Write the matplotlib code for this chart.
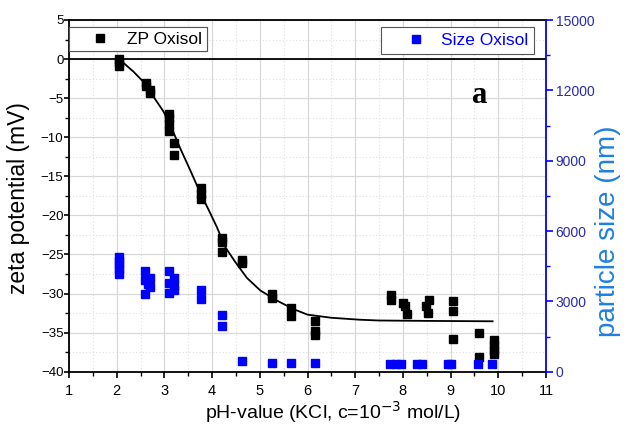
import matplotlib
matplotlib.use("Agg")
import matplotlib.pyplot as plt
from matplotlib.ticker import MultipleLocator

plt.rcParams['font.family'] = ['Liberation Sans', 'DejaVu Sans']

# Zeta potential measurements (pH, mV)
zp_ph = [2.05, 2.05, 2.05,
         2.62, 2.62, 2.70, 2.70,
         3.10, 3.10, 3.10, 3.10, 3.20, 3.20,
         3.77, 3.77, 3.77,
         4.20, 4.20, 4.20,
         4.63, 4.63,
         5.25, 5.25,
         5.65, 5.65,
         6.15, 6.15, 6.15,
         7.75, 7.75,
         8.00, 8.05, 8.08,
         8.55, 8.48, 8.52,
         9.05, 9.05, 9.05,
         9.60, 9.60,
         9.90, 9.90, 9.90, 9.90]
zp_mv = [0.0, -0.4, -0.9,
         -3.0, -3.4, -3.9, -4.4,
         -7.0, -7.6, -8.3, -9.2, -10.7, -12.3,
         -16.5, -17.2, -17.9,
         -22.9, -23.4, -24.7,
         -25.7, -26.1,
         -30.0, -30.6,
         -31.8, -32.9,
         -33.5, -34.8, -35.3,
         -30.2, -30.8,
         -31.2, -31.6, -32.6,
         -30.8, -31.6, -32.5,
         -31.0, -32.2, -35.8,
         -35.0, -38.1,
         -36.0, -36.6, -37.2, -37.7]

# Particle size measurements (pH, nm)
size_ph = [2.05, 2.05, 2.05, 2.05, 2.05,
           2.60, 2.60, 2.60, 2.70, 2.70, 2.65,
           3.10, 3.10, 3.10, 3.20, 3.20, 3.20,
           3.77, 3.77,
           4.20, 4.20,
           4.63, 5.25, 5.65, 6.15,
           7.72, 7.85, 7.95, 8.30, 8.40,
           8.95, 9.00, 9.58, 9.87]
size_nm = [4890, 4720, 4550, 4380, 4170,
           4300, 3900, 3300, 4000, 3600, 3750,
           4300, 3800, 3350, 4000, 3700, 3500,
           3500, 3100,
           2400, 1950,
           460, 360, 360, 360,
           330, 330, 330, 330, 330,
           330, 330, 330, 330]

# Fitted curve
fit_ph = [2.07, 2.35, 2.59, 2.77, 2.98, 3.15, 3.33, 3.54, 3.75, 3.96, 4.10,
          4.28, 4.49, 4.73, 5.01, 5.36, 5.71, 6.00, 6.50, 7.10, 7.50, 8.50, 9.88]
fit_mv = [-0.1, -1.6, -3.1, -4.8, -6.7, -8.8, -11.4, -14.2, -17.1, -19.7, -21.5,
          -24.1, -26.0, -28.0, -29.6, -30.9, -32.0, -32.7, -33.1, -33.35, -33.45, -33.5, -33.55]

blue = '#0000ff'
dark_blue = '#2a2ab0'
label_blue = '#1f7fe0'

fig = plt.figure(figsize=(6.28, 4.30), dpi=100)
ax = fig.add_axes([69/628, 1-371.7/430, 477/628, 351.7/430])
ax2 = ax.twinx()

ax.set_xlim(1, 11)
ax.set_ylim(-40, 5)
ax2.set_ylim(0, 15000)

ax.xaxis.set_major_locator(MultipleLocator(1))
ax.xaxis.set_minor_locator(MultipleLocator(0.5))
ax.yaxis.set_major_locator(MultipleLocator(5))
ax.yaxis.set_minor_locator(MultipleLocator(2.5))
ax2.yaxis.set_major_locator(MultipleLocator(3000))
ax2.yaxis.set_minor_locator(MultipleLocator(1500))

ax.grid(which='major', color='#d8d8d8', linewidth=0.9, linestyle='-')
ax.grid(which='minor', color='#e0e0e0', linewidth=0.8, linestyle=(0, (1, 2)))
ax.set_axisbelow(True)

ax.axhline(0, color='black', linewidth=1.3, zorder=2)

ax.plot(fit_ph, fit_mv, color='black', linewidth=1.3, zorder=3)
l1, = ax.plot(zp_ph, zp_mv, linestyle='none', marker='s', markersize=6,
              color='black', zorder=4, label='ZP Oxisol')
l2, = ax2.plot(size_ph, size_nm, linestyle='none', marker='s', markersize=6,
               color=blue, zorder=4, label='Size Oxisol')

for s in ['left', 'bottom', 'top']:
    ax.spines[s].set_color('black')
    ax.spines[s].set_linewidth(1.3)
ax.spines['right'].set_visible(False)
ax2.spines['left'].set_visible(False)
ax2.spines['top'].set_visible(False)
ax2.spines['bottom'].set_visible(False)
ax2.spines['right'].set_color(blue)
ax2.spines['right'].set_linewidth(1.3)

ax.tick_params(axis='both', which='major', direction='out', length=4.5, width=1.2,
               color='black', top=False, right=False)
ax.tick_params(axis='both', which='minor', direction='out', length=3, width=1.0,
               color='black', top=False, right=False)
ax.tick_params(axis='x', labelsize=10.5, pad=4)
ax.tick_params(axis='y', which='major', labelsize=9.5, pad=0.5, length=3.5)
ax2.tick_params(axis='y', which='major', direction='out', length=5, width=1.2,
                color=blue, labelcolor=dark_blue, labelsize=10, pad=2)
ax2.tick_params(axis='y', which='minor', direction='out', length=3, width=1.0,
                color=blue)

ax.set_xlabel('pH-value (KCl, c=10$^{-3}$ mol/L)', fontsize=14)
ax.xaxis.set_label_coords(0.553, -0.078)
ax.set_ylabel('zeta potential (mV)', fontsize=16.5)
ax.yaxis.set_label_coords(-0.082, 0.495)
ax2.set_ylabel('particle size (nm)', fontsize=20, color=label_blue)
ax2.yaxis.set_label_coords(1.102, 0.40)

leg1 = ax.legend(handles=[l1], loc='upper left', bbox_to_anchor=(0.0, 0.979),
                 fancybox=False, edgecolor='#555555', framealpha=1, fontsize=12.5,
                 handlelength=3.1, handletextpad=0.0, borderpad=0.25,
                 borderaxespad=0)
leg1.get_frame().set_linewidth(0.8)
ax.add_artist(leg1)
leg1.set_zorder(10)

leg2 = ax2.legend(handles=[l2], loc='upper right', bbox_to_anchor=(0.975, 0.981),
                  fancybox=False, edgecolor='#555555', framealpha=1, fontsize=12.5,
                  handlelength=3.3, handletextpad=-0.2, borderpad=0.35,
                  borderaxespad=0, labelcolor=blue)
leg2.get_frame().set_linewidth(0.8)

ax.text(9.62, -4.6, 'a', fontsize=22, fontweight='bold',
        family=['Liberation Serif', 'DejaVu Serif'], ha='center', va='center')

fig.savefig('out.png', dpi=100)
